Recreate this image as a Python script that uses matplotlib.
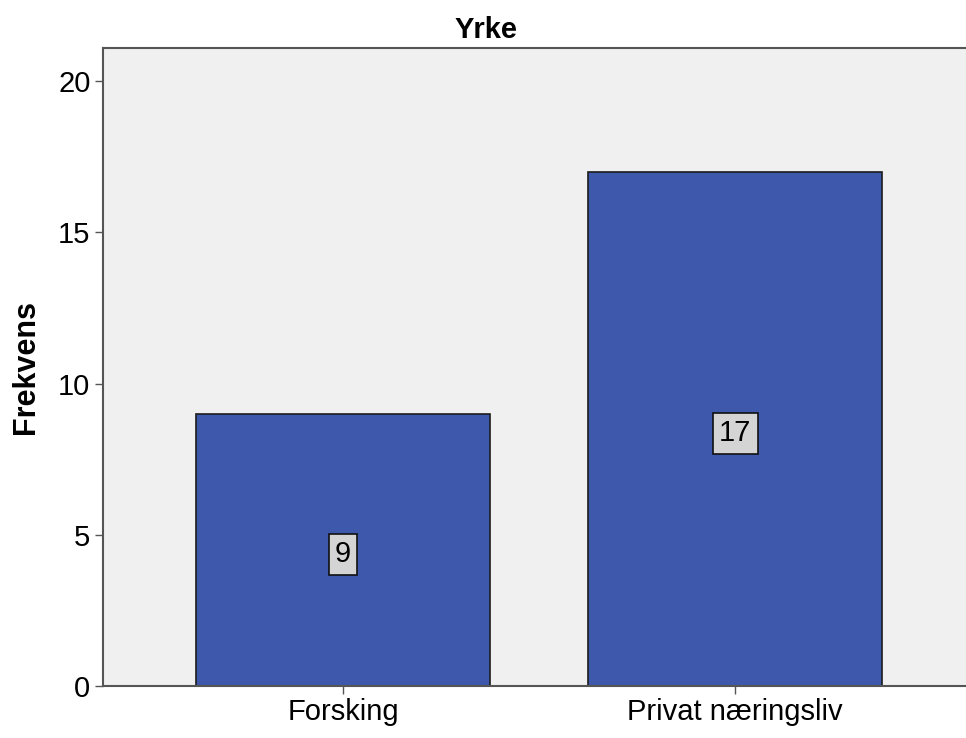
import matplotlib.pyplot as plt
import numpy as np

# Données du graphique
categories = ["Forsking", "Privat næringsliv"]
frekvens = [9, 17]
y_ticks = [0, 5, 10, 15, 20]

plt.rcParams['font.family'] = ['Liberation Sans', 'DejaVu Sans']

fig = plt.figure(figsize=(9.66, 7.38), dpi=100)
ax = fig.add_axes([0.1066, 0.0705, 0.903, 0.8645])
ax.set_facecolor("#F0F0F0")

x = np.arange(len(categories))
barres = ax.bar(x, frekvens, width=0.75, color="#3E58AC", edgecolor="#1c1c1c", linewidth=1.2, zorder=2)

# Étiquettes au milieu des barres
for xi, val in zip(x, frekvens):
    ax.text(xi, val / 2 - 0.15, str(val), ha="center", va="center", fontsize=21, zorder=3,
            bbox=dict(boxstyle="square,pad=0.22", facecolor="#D4D4D4", edgecolor="#111111", linewidth=1.2))

ax.set_xlim(-0.612, 1.612)
ax.set_ylim(0, 21.1)
ax.set_yticks(y_ticks)
ax.set_xticks(x)
ax.set_xticklabels(categories)
ax.tick_params(axis="both", labelsize=21, length=6, width=1, color="#555555", pad=3)

for s in ["left", "bottom", "top"]:
    ax.spines[s].set_color("#555555")
    ax.spines[s].set_linewidth(1.5)
ax.spines["right"].set_visible(False)

ax.set_ylabel("Frekvens", fontsize=22, fontweight="bold", labelpad=12)
fig.text(0.503, 0.96, "Yrke", ha="center", va="center", fontsize=21, fontweight="bold")

fig.savefig("out.png", dpi=100)
